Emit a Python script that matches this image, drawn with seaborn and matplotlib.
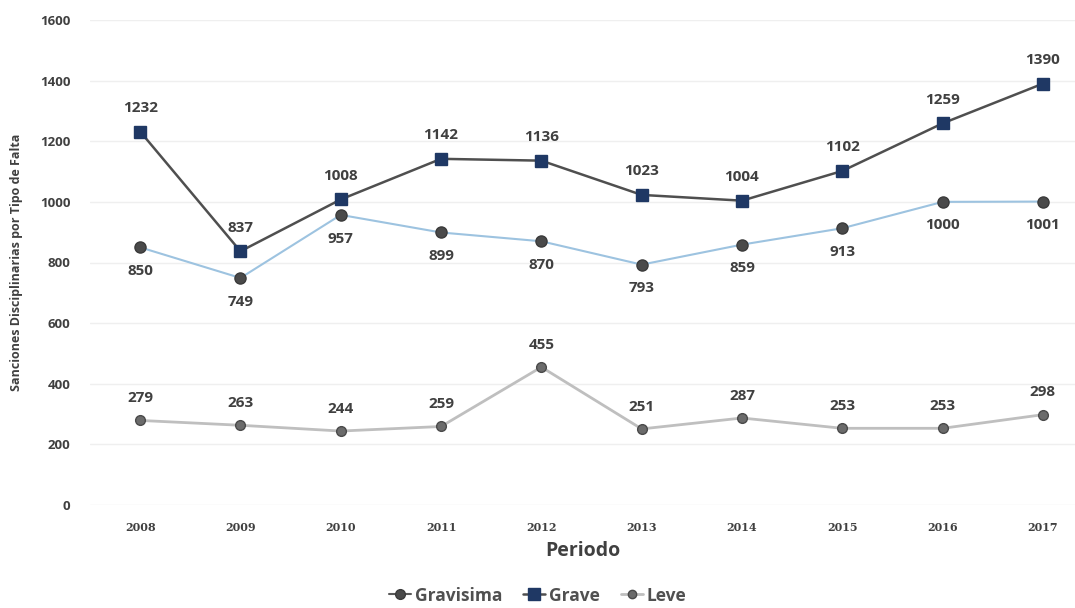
import pandas as pd
import matplotlib.pyplot as plt
import seaborn as sns
import numpy as np

# Datos
years = ['2008', '2009', '2010', '2011', '2012', '2013', '2014', '2015', '2016', '2017']
gravisima = [850, 749, 957, 899, 870, 793, 859, 913, 1000, 1001]
grave = [1232, 837, 1008, 1142, 1136, 1023, 1004, 1102, 1259, 1390]
leve = [279, 263, 244, 259, 455, 251, 287, 253, 253, 298]

df = pd.DataFrame({'Periodo': years, 'Gravisima': gravisima, 'Grave': grave, 'Leve': leve})
df['x'] = np.arange(len(years))

sns.set_style('white')
plt.rcParams['font.family'] = ['Open Sans', 'DejaVu Sans']

fig = plt.figure(figsize=(10.75, 6.08), dpi=100)
ax = fig.add_axes([90 / 1075, 1 - 505 / 608, 1 - 90 / 1075, (505 - 20) / 608])

txt = '#404040'
styles = {
    'Gravisima': dict(color='#9dc3e0', marker='o', mfc='#4a4a4a', mec='#3a3a3a', ms=8, lw=1.5),
    'Grave': dict(color='#4f4f4f', marker='s', mfc='#1f3864', mec='#1f3864', ms=9, lw=1.8),
    'Leve': dict(color='#bfbfbf', marker='o', mfc='#6b6b6b', mec='#4a4a4a', ms=7, lw=2.0),
}
offsets = {'Gravisima': -17, 'Grave': 17, 'Leve': 16}

handles = []
for name in ['Gravisima', 'Grave', 'Leve']:
    st = styles[name]
    sns.lineplot(data=df, x='x', y=name, ax=ax, color=st['color'], lw=st['lw'],
                 marker=st['marker'], markersize=st['ms'], markerfacecolor=st['mfc'],
                 markeredgecolor=st['mec'], markeredgewidth=1, zorder=3)
    for xi, v in zip(df['x'], df[name]):
        ax.annotate(str(v), (xi, v), xytext=(0, offsets[name]), textcoords='offset points',
                    ha='center', va='center', fontsize=11, fontweight='bold', color=txt)
    handles.append(plt.Line2D([], [], color=st['color'] if name != 'Gravisima' else '#595959',
                              lw=st['lw'], marker=st['marker'], markersize=st['ms'] - 1,
                              markerfacecolor=st['mfc'], markeredgecolor=st['mec'], label=name))

ax.set_xlim(-0.5, 9.32)
ax.set_ylim(0, 1600)
ax.set_yticks(range(0, 1601, 200))
ax.set_xticks(df['x'])
ax.set_xticklabels(years, fontsize=8, fontweight='bold', color=txt, family='DejaVu Serif')
ax.tick_params(axis='y', labelsize=9.5, colors=txt, length=0, pad=14)
ax.tick_params(axis='x', length=0, pad=12)
for lab in ax.get_yticklabels():
    lab.set_fontweight('bold')
ax.yaxis.grid(True, color='#efefef', lw=1)
ax.set_axisbelow(True)
for s in ax.spines.values():
    s.set_visible(False)

ax.set_xlabel('Periodo', fontsize=14, fontweight='bold', color=txt, labelpad=6)
ax.set_ylabel('Sanciones Disciplinarias por Tipo de Falta', fontsize=9, fontweight='bold',
              color=txt, labelpad=12)

fig.legend(handles=handles, loc='lower center', bbox_to_anchor=(0.5, -0.02), ncol=3,
           frameon=False, handlelength=1.3, handletextpad=0.2, columnspacing=1.2,
           prop={'weight': 'bold', 'size': 12.5})
for t in fig.legends[0].get_texts():
    t.set_color('#505050')

fig.savefig('out.png', dpi=100)
